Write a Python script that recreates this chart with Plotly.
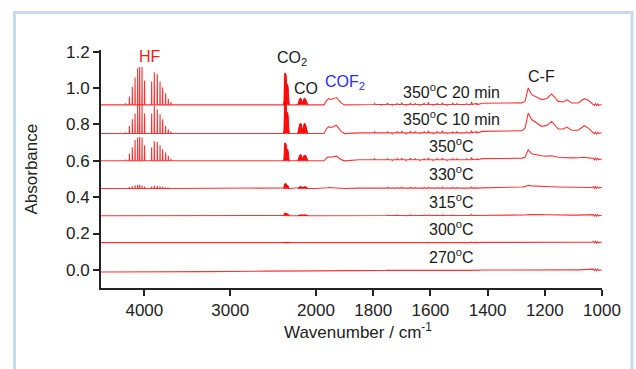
import plotly.graph_objects as go

# ---------------- data ----------------
spectra = ["350°C 20 min", "350°C 10 min", "350°C", "330°C", "315°C", "300°C", "270°C"]
label_text = ["350<sup>o</sup>C 20 min", "350<sup>o</sup>C 10 min", "350<sup>o</sup>C",
              "330<sup>o</sup>C", "315<sup>o</sup>C", "300<sup>o</sup>C", "270<sup>o</sup>C"]
offsets = [0.908, 0.750, 0.600, 0.448, 0.298, 0.150, -0.012]
label_y = [0.986, 0.838, 0.689, 0.534, 0.380, 0.231, 0.077]

# baseline drift anchors (cm-1) and values above offset
drift_wn = [4505, 3300, 2600, 2000, 1850, 1440]
drift = [
    [0.000, 0.000, 0.000, 0.000, 0.002, 0.008],
    [0.000, 0.000, 0.000, 0.000, 0.004, 0.010],
    [0.000, 0.000, 0.000, 0.000, 0.006, 0.010],
    [0.000, 0.000, 0.000, 0.000, 0.002, 0.003],
    [0.000, 0.000, 0.000, 0.000, 0.001, 0.001],
    [0.000, 0.000, 0.000, 0.000, 0.000, 0.001],
    [0.000, 0.002, 0.005, 0.006, 0.009, 0.011],
]

# HF rotational lines
hf_wn = [4220, 4174, 4140, 4108, 4078, 4055, 4027, 3997, 3915, 3884, 3849, 3817, 3787, 3752, 3721, 3690]
hf_h = [
    [0.008, 0.046, 0.098, 0.150, 0.202, 0.208, 0.208, 0.134, 0.128, 0.180, 0.171, 0.128, 0.095, 0.064, 0.033, 0.015],
    [0.006, 0.042, 0.079, 0.110, 0.158, 0.161, 0.161, 0.110, 0.110, 0.153, 0.134, 0.106, 0.079, 0.042, 0.024, 0.011],
    [0.006, 0.040, 0.075, 0.115, 0.128, 0.133, 0.128, 0.085, 0.075, 0.108, 0.104, 0.085, 0.064, 0.046, 0.028, 0.011],
    [0.000, 0.008, 0.012, 0.018, 0.020, 0.020, 0.016, 0.010, 0.010, 0.016, 0.015, 0.012, 0.009, 0.006, 0.004, 0.000],
    [0.000, 0.002, 0.003, 0.004, 0.004, 0.004, 0.003, 0.002, 0.002, 0.003, 0.003, 0.002, 0.002, 0.001, 0.000, 0.000],
    [0.000, 0.000, 0.001, 0.001, 0.002, 0.002, 0.001, 0.001, 0.001, 0.001, 0.001, 0.001, 0.000, 0.000, 0.000, 0.000],
    [0.000, 0.000, 0.000, 0.001, 0.001, 0.001, 0.001, 0.000, 0.000, 0.001, 0.001, 0.000, 0.000, 0.000, 0.000, 0.000],
]

# CO2 band envelope
co2_wn = [2380, 2372, 2368, 2362, 2354, 2348, 2343, 2338, 2330, 2324, 2318, 2312]
co2_shape = [0.0, 0.1, 0.85, 1.0, 0.97, 0.9, 0.5, 0.65, 0.62, 0.5, 0.15, 0.0]
co2_amp = [0.175, 0.180, 0.098, 0.027, 0.014, 0.004, 0.0]

# CO band envelope (two branches)
co_wn = [2212, 2204, 2196, 2188, 2180, 2172, 2164, 2156, 2150, 2143, 2135, 2127, 2119, 2111, 2103, 2096]
co_shape = [0.0, 0.35, 0.75, 0.95, 1.0, 0.9, 0.55, 0.25, 0.35, 0.8, 1.0, 0.95, 0.8, 0.45, 0.12, 0.0]
co_amp = [0.036, 0.055, 0.033, 0.010, 0.005, 0.0, 0.0]

# COF2 band
cof2_wn = [1972, 1962, 1955, 1948, 1941, 1934, 1928, 1920, 1910, 1900]
cof2_shape = [0.0, 0.65, 0.85, 0.75, 0.8, 0.95, 1.0, 0.6, 0.2, 0.0]
cof2_amp = [0.040, 0.045, 0.026, 0.006, 0.0, 0.0, 0.0]

# small water-vapour spikes 1800-1430
wv_wn = [1795, 1772, 1750, 1733, 1716, 1700, 1685, 1670, 1653, 1636, 1622,
         1607, 1590, 1576, 1558, 1541, 1522, 1507, 1490, 1473, 1456, 1436]
wv_h = [0.006, -0.004, 0.008, -0.005, 0.007, 0.010, -0.006, 0.009, 0.006, -0.004, 0.008,
        0.011, -0.005, 0.007, 0.010, -0.004, 0.008, 0.006, -0.003, 0.005, 0.014, 0.004]
wv_scale = [1.0, 1.0, 0.9, 0.5, 0.4, 0.25, 0.15]

# C-F region
cf_wn = [1420, 1330, 1280, 1269, 1258, 1246, 1228, 1211, 1193, 1176,
         1153, 1135, 1123, 1106, 1083, 1062, 1048, 1036, 1001]
cf = [
    [0.009, 0.010, 0.011, 0.020, 0.093, 0.056, 0.043, 0.029, 0.035, 0.060, 0.019, 0.016, 0.029, 0.010, 0.010, 0.034, 0.025, 0.008, 0.001],
    [0.012, 0.014, 0.016, 0.030, 0.113, 0.077, 0.058, 0.040, 0.045, 0.067, 0.025, 0.025, 0.036, 0.018, 0.018, 0.043, 0.030, 0.010, 0.003],
    [0.012, 0.013, 0.015, 0.020, 0.061, 0.039, 0.033, 0.028, 0.026, 0.028, 0.020, 0.018, 0.019, 0.016, 0.017, 0.020, 0.016, 0.012, 0.010],
    [0.003, 0.004, 0.008, 0.010, 0.017, 0.014, 0.012, 0.010, 0.009, 0.009, 0.008, 0.007, 0.007, 0.006, 0.006, 0.007, 0.006, 0.005, 0.005],
    [0.001, 0.002, 0.003, 0.004, 0.006, 0.007, 0.007, 0.006, 0.005, 0.004, 0.004, 0.003, 0.003, 0.003, 0.003, 0.003, 0.003, 0.002, 0.002],
    [0.001, 0.001, 0.001, 0.001, 0.002, 0.002, 0.002, 0.002, 0.002, 0.002, 0.002, 0.002, 0.002, 0.002, 0.002, 0.002, 0.002, 0.002, 0.002],
    [0.011, 0.011, 0.012, 0.012, 0.013, 0.013, 0.013, 0.012, 0.012, 0.012, 0.012, 0.012, 0.012, 0.012, 0.012, 0.012, 0.012, 0.012, 0.012],
]

# noise at the low-wavenumber end
end_wn = [1031, 1027, 1023, 1019, 1015, 1011, 1006]
end_d = [0.004, -0.004, 0.005, -0.005, 0.004, -0.003, 0.000]

# band labels
band_labels = [
    dict(text="HF", xref="x", x=3930, y=1.174, color="#ff1a1a"),
    dict(text="CO<sub>2</sub>", xref="x", x=2285, y=1.165, color="#1a1a1a"),
    dict(text="CO", xref="x", x=2111, y=0.997, color="#1a1a1a"),
    dict(text="COF<sub>2</sub>", xref="x2", x=1900, y=1.030, color="#2a2aff"),
    dict(text="C-F", xref="x2", x=1210, y=1.063, color="#1a1a1a"),
]

x_ticks_hi = [4000, 3000]
x_ticks_lo = [2000, 1800, 1600, 1400, 1200, 1000]
y_ticks = [0.0, 0.2, 0.4, 0.6, 0.8, 1.0, 1.2]

# ---------------- build figure ----------------
FONT = "Liberation Sans, Arial, sans-serif"
RED = "rgba(255,0,0,0.8)"
STICK_HW = 2.5
SPIKE_HW = 2.5

fig = go.Figure()

for i in range(len(spectra)):
    off = offsets[i]
    pts = []
    for w, d in zip(drift_wn, drift[i]):
        pts.append((w, d))
    for w, h in zip(hf_wn, hf_h[i]):
        pts += [(w + STICK_HW, 0.0), (w, h), (w - STICK_HW, 0.0)]
    for w, s in zip(co2_wn, co2_shape):
        pts.append((w, co2_amp[i] * s + drift[i][2]))
    for w, s in zip(co_wn, co_shape):
        pts.append((w, co_amp[i] * s + drift[i][3]))
    for w, s in zip(cof2_wn, cof2_shape):
        pts.append((w, cof2_amp[i] * s + drift[i][3]))
    for w, h in zip(wv_wn, wv_h):
        b = drift[i][4]
        pts += [(w + SPIKE_HW, b), (w, b + h * wv_scale[i]), (w - SPIKE_HW, b)]
    for w, v in zip(cf_wn, cf[i]):
        pts.append((w, v))
    for w, d in zip(end_wn, end_d):
        pts.append((w, cf[i][-1] + d))
    pts.sort(key=lambda p: -p[0])

    hi = [p for p in pts if p[0] >= 2000]
    lo = [p for p in pts if p[0] <= 2000]
    fig.add_trace(go.Scatter(x=[p[0] for p in hi], y=[off + p[1] for p in hi],
                             xaxis="x", yaxis="y", mode="lines",
                             line=dict(color=RED, width=1.1), name=spectra[i],
                             hoverinfo="skip"))
    fig.add_trace(go.Scatter(x=[p[0] for p in lo], y=[off + p[1] for p in lo],
                             xaxis="x2", yaxis="y", mode="lines",
                             line=dict(color=RED, width=1.1), name=spectra[i],
                             hoverinfo="skip"))
    # filled CO2 / CO bands
    for wns, shp, amp, base in ((co2_wn, co2_shape, co2_amp[i], drift[i][2]),
                                (co_wn, co_shape, co_amp[i], drift[i][3])):
        if amp <= 0:
            continue
        fig.add_trace(go.Scatter(x=list(wns) + [wns[0]],
                                 y=[off + base + amp * s for s in shp] + [off + base],
                                 xaxis="x", yaxis="y", mode="lines", fill="toself",
                                 fillcolor="rgba(255,0,0,0.95)",
                                 line=dict(color="rgba(255,0,0,0.95)", width=0.6),
                                 hoverinfo="skip"))
    fig.add_annotation(text=label_text[i], xref="x2", yref="y", x=1526, y=label_y[i],
                       showarrow=False, xanchor="center", yanchor="middle",
                       font=dict(family=FONT, size=16, color="#1a1a1a"))

for b in band_labels:
    fig.add_annotation(text=b["text"], xref=b["xref"], yref="y", x=b["x"], y=b["y"],
                       showarrow=False, xanchor="center", yanchor="middle",
                       font=dict(family=FONT, size=16, color=b["color"]))

axis_common = dict(showline=True, linewidth=2, linecolor="#222", ticks="outside",
                   ticklen=6, tickwidth=1.5, tickcolor="#222", showgrid=False,
                   zeroline=False, tickfont=dict(family=FONT, size=17, color="#222"))

split = 215 / 501
fig.update_layout(
    width=636, height=369,
    margin=dict(l=101, r=34, t=50, b=81),
    paper_bgcolor="white", plot_bgcolor="white", showlegend=False,
    xaxis=dict(domain=[0, split], range=[4505, 2000], tickvals=x_ticks_hi,
               ticktext=[str(v) for v in x_ticks_hi], anchor="y", **axis_common),
    xaxis2=dict(domain=[split, 1], range=[2000, 1000], tickvals=x_ticks_lo,
                ticktext=[str(v) for v in x_ticks_lo], anchor="y", **axis_common),
    yaxis=dict(range=[-0.1, 1.21], tickvals=y_ticks,
               ticktext=[f"{v:.1f}" for v in y_ticks], anchor="x", **axis_common),
)

# axis titles
fig.add_annotation(text="Wavenumber / cm<sup>-1</sup>", xref="paper", yref="paper",
                   x=(357.5 - 101) / 501, y=(288 - 331) / 238, showarrow=False,
                   xanchor="center", yanchor="middle",
                   font=dict(family=FONT, size=17, color="#222"))
fig.add_annotation(text="Absorbance", xref="paper", yref="paper",
                   x=(30.5 - 101) / 501, y=0.5, showarrow=False, textangle=-90,
                   xanchor="center", yanchor="middle",
                   font=dict(family=FONT, size=17, color="#222"))

# outer light-blue frame
fig.add_shape(type="rect", xref="paper", yref="paper",
              x0=(14.5 - 101) / 501, x1=(632 - 101) / 501,
              y0=(288 - 420) / 238, y1=(288 - 12.5) / 238,
              line=dict(color="#c6d9f0", width=3), fillcolor="rgba(0,0,0,0)", layer="below")

fig.write_html("out.html")
